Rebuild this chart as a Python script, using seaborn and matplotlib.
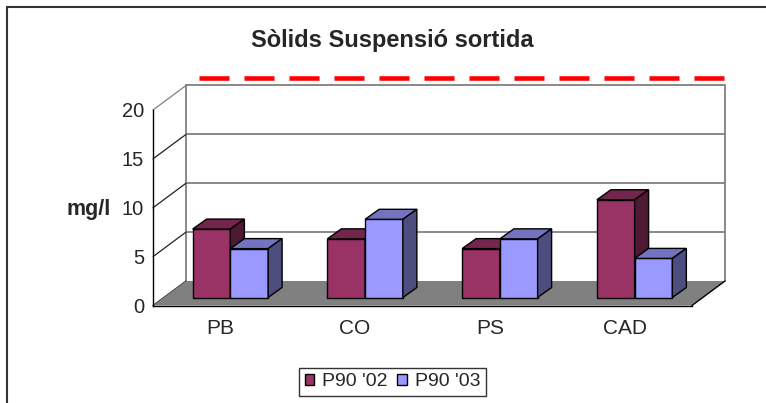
import pandas as pd
import matplotlib
matplotlib.use("Agg")
import matplotlib.pyplot as plt
import matplotlib.transforms as mtransforms
from matplotlib.patches import Polygon, Patch
from matplotlib.lines import Line2D
import seaborn as sns

# dades (mg/l)
punts = ["PB", "CO", "PS", "CAD"]
series = ["P90 '02", "P90 '03"]
p90_02 = [7, 6, 5, 10]
p90_03 = [5, 8, 6, 4]
y_ticks = [0, 5, 10, 15, 20]

colors_front = ["#993366", "#9999FF"]
colors_top = ["#73264D", "#7373BF"]
colors_side = ["#4D1933", "#4D4D80"]

df = pd.DataFrame({
    "punt": punts * 2,
    "serie": [series[0]] * len(punts) + [series[1]] * len(punts),
    "mgl": p90_02 + p90_03,
})

sns.set_style("white")
plt.rcParams["font.family"] = ["Liberation Sans", "DejaVu Sans"]
plt.rcParams["lines.scale_dashes"] = False

W, H = 766, 403
fig = plt.figure(figsize=(W / 100, H / 100), dpi=100)
fx0, fx1, fy0, fy1 = 153, 692, 305.5, 110   # front plane in pixels (from top)
ax = fig.add_axes([fx0 / W, 1 - fy0 / H, (fx1 - fx0) / W, (fy0 - fy1) / H])
ax.patch.set_visible(False)

sns.barplot(data=df, x="punt", y="mgl", hue="serie", palette=colors_front,
            width=0.56, saturation=1, edgecolor="black", linewidth=1,
            legend=False, ax=ax)
bars = list(ax.patches)
ax.set_xlim(-0.5, len(punts) - 0.5)
ax.set_ylim(0, 20)

ident = mtransforms.IdentityTransform()
DX, DY = 33, 24.5      # depth of floor / back wall, px
BX, BY = 10, 8         # bars sit in the middle
TX, TY = 14, 10        # bar depth


def px(x, y):
    return ax.transData.transform((x, y))


# back wall + floor + side wall lines
xl, yb = px(-0.5, 0)
xr, _ = px(len(punts) - 0.5, 0)
ax.add_patch(Polygon([(xl, yb), (xr, yb), (xr + DX, yb + DY), (xl + DX, yb + DY)],
                     closed=True, facecolor="#808080", edgecolor="none",
                     transform=ident, zorder=1, clip_on=False))
for v in y_ticks:
    _, yv = px(0, v)
    if v > 0:
        ax.add_line(Line2D([xl + DX, xr + DX], [yv + DY, yv + DY], color="#808080",
                           lw=1.3, transform=ident, zorder=0.5, clip_on=False))
    ax.add_line(Line2D([xl, xl + DX], [yv, yv + DY], color="#202020" if v < 20 else "#808080",
                       lw=0.9, transform=ident, zorder=0.6, clip_on=False))
_, ytop = px(0, 20)
for xx in (xl + DX, xr + DX):
    ax.add_line(Line2D([xx, xx], [yb + DY, ytop + DY], color="#808080", lw=1.3,
                       transform=ident, zorder=0.5, clip_on=False))
ax.add_line(Line2D([xr, xr + DX], [yb, yb + DY], color="black", lw=1,
                   transform=ident, zorder=2, clip_on=False))

# bars with depth
shift = ax.transData + mtransforms.ScaledTranslation(BX / 100, BY / 100, fig.dpi_scale_trans)
n = len(punts)
for k, bar in enumerate(bars):
    s = k // n
    z = 3 + s
    bar.set_transform(shift)
    bar.set_zorder(z)
    bar.set_clip_on(False)
    bb = bar.get_window_extent()
    x0, x1, y0, y1 = bb.x0, bb.x1, bb.y0, bb.y1
    top = [(x0, y1), (x1, y1), (x1 + TX, y1 + TY), (x0 + TX, y1 + TY)]
    side = [(x1, y0), (x1 + TX, y0 + TY), (x1 + TX, y1 + TY), (x1, y1)]
    for pts, c in ((top, colors_top[s]), (side, colors_side[s])):
        ax.add_patch(Polygon(pts, closed=True, facecolor=c, edgecolor="black", lw=1,
                             transform=ident, zorder=z + 0.1, clip_on=False,
                             joinstyle="miter"))

# axes look
for sp in ("top", "right"):
    ax.spines[sp].set_visible(False)
for sp in ("left", "bottom"):
    ax.spines[sp].set_color("black")
    ax.spines[sp].set_linewidth(1)
    ax.spines[sp].set_zorder(2)
ax.set_yticks(y_ticks)
ax.tick_params(axis="y", direction="out", length=3.5, width=0.8, pad=3,
               labelsize=14.5, color="black")
ax.set_xticks(range(n))
ax.set_xticklabels(punts)
ax.set_xticks([i - 0.5 for i in range(n + 1)], minor=True)
ax.tick_params(axis="x", which="major", length=0, pad=10, labelsize=15)
ax.tick_params(axis="x", which="minor", length=4, width=0.8, color="black")
ax.set_xlabel("")
ax.set_ylabel("")

# red dashed line above the chart
fig.add_artist(Line2D([199 / W, 725 / W], [1 - 78 / H, 1 - 78 / H], color="#FF0000",
                      lw=3.3, linestyle=(0, (21.6, 10.8)), solid_capstyle="butt",
                      dash_capstyle="butt"))

fig.text(392 / W, 1 - 40 / H, "Sòlids Suspensió sortida", fontsize=17,
         fontweight="bold", ha="center", va="center")
fig.text(88.5 / W, 1 - 210 / H, "mg/l", fontsize=15.5, fontweight="bold",
         ha="center", va="center")

handles = [Patch(facecolor=c, edgecolor="black", lw=1) for c in colors_front]
leg = fig.legend(handles, series, loc="center", bbox_to_anchor=(392.5 / W, 1 - 382 / H),
                 ncol=2, fontsize=14, frameon=True, fancybox=False, shadow=False,
                 handlelength=0.5, handleheight=0.5, handletextpad=0.4,
                 columnspacing=0.5, borderpad=0.3, borderaxespad=0)
leg.get_frame().set_edgecolor("black")
leg.get_frame().set_linewidth(1)

# outer chart border (cut at right and bottom)
fig.add_artist(Line2D([7 / W, 1.0], [1 - 7 / H, 1 - 7 / H], color="#333333", lw=1.5))
fig.add_artist(Line2D([7 / W, 7 / W], [0, 1 - 7 / H], color="#333333", lw=1.5))

fig.savefig("out.png", dpi=100)
